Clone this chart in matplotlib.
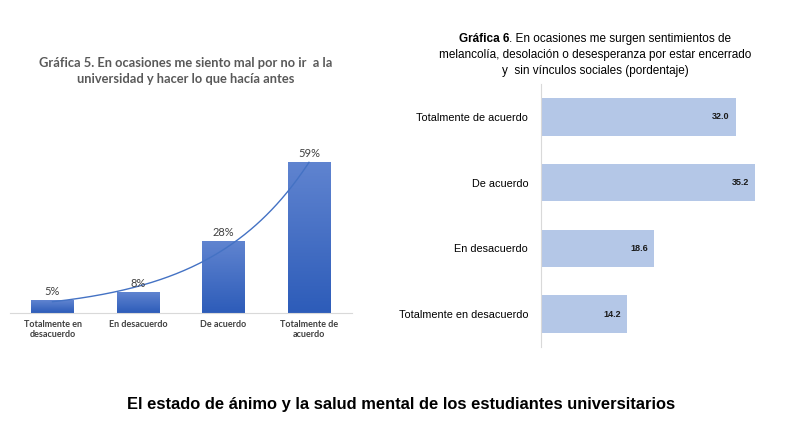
import numpy as np
import matplotlib
matplotlib.use('Agg')
import matplotlib.pyplot as plt
from matplotlib.colors import LinearSegmentedColormap


# Datos de la gráfica 5 (columnas, porcentajes)
cats_5 = ['Totalmente en\ndesacuerdo', 'En desacuerdo', 'De acuerdo', 'Totalmente de\nacuerdo']
vals_5 = [5, 8, 28, 59]

# Datos de la gráfica 6 (barras horizontales, de arriba a abajo)
cats_6 = ['Totalmente de acuerdo', 'De acuerdo', 'En desacuerdo', 'Totalmente en desacuerdo']
vals_6 = [32.0, 35.2, 18.6, 14.2]

titulo_5 = 'Gráfica 5. En ocasiones me siento mal por no ir  a la\nuniversidad y hacer lo que hacía antes'
titulo_6_neg = 'Gráfica 6'
titulo_6 = ('. En ocasiones me surgen sentimientos de\n'
            'melancolía, desolación o desesperanza por estar encerrado\n'
            'y  sin vínculos sociales (pordentaje)')
titulo_general = 'El estado de ánimo y la salud mental de los estudiantes universitarios'


W, H = 797, 448
fig = plt.figure(figsize=(W / 100, H / 100), dpi=100)


# --------> Gráfica 5
ax1 = fig.add_axes([9.75 / W, (H - 313) / H, 342 / W, 166.7 / H])
x = np.arange(len(vals_5))
bars = ax1.bar(x, vals_5, width=0.5, color='#4a73c8', zorder=2)

# degradado de las columnas
cmap = LinearSegmentedColormap.from_list('azul', ['#2d5cb9', '#6084d0'])
grad = np.linspace(0, 1, 256).reshape(-1, 1)
for b in bars:
    im = ax1.imshow(grad, extent=[b.get_x(), b.get_x() + b.get_width(), 0, b.get_height()],
                    origin='lower', aspect='auto', cmap=cmap, zorder=2)
    im.set_clip_path(b)

# línea de tendencia exponencial
coef = np.polyfit(x + 1, np.log(vals_5), 1)
xs = np.linspace(0, 3, 200)
ax1.plot(xs, np.exp(coef[1] + coef[0] * (xs + 1)), color='#4472c4', lw=1, zorder=3)

for xi, v in zip(x, vals_5):
    ax1.text(xi, v + 1.2, f'{v}%', ha='center', va='bottom', fontsize=8,
             color='#404040', family='Lato', zorder=4)

ax1.set_xlim(-0.5, 3.5)
ax1.set_ylim(0, 65)
ax1.set_xticks(x)
ax1.set_xticklabels(cats_5, fontsize=6.5, color='#404040', family='Lato', weight='bold')
ax1.tick_params(axis='x', length=0, pad=5)
ax1.set_yticks([])
for s in ['top', 'right', 'left']:
    ax1.spines[s].set_visible(False)
ax1.spines['bottom'].set_color('#d9d9d9')
ax1.patch.set_alpha(0)

fig.text(186 / W, 1 - 71 / H, titulo_5, ha='center', va='center', fontsize=9.3,
         weight='bold', color='#595959', family='Lato', linespacing=1.4)


# --------> Gráfica 6
ax2 = fig.add_axes([540.7 / W, (H - 347) / H, 243.5 / W, 263 / H])
y = np.arange(len(vals_6))
ax2.barh(y, vals_6, height=0.57, color='#b4c7e7', zorder=2)
for yi, v in zip(y, vals_6):
    ax2.text(v - 1.0, yi, f'{v:.1f}', ha='right', va='center', fontsize=6.5,
             weight='bold', color='#1a1a1a', family='Liberation Sans')
ax2.set_ylim(3.5, -0.5)
ax2.set_xlim(0, 40)
ax2.set_yticks(y)
ax2.set_yticklabels(cats_6, fontsize=7.8, family='Liberation Sans', color='#000000')
ax2.tick_params(axis='y', length=0, pad=9)
ax2.set_xticks([])
for s in ['top', 'right', 'bottom']:
    ax2.spines[s].set_visible(False)
ax2.spines['left'].set_color('#d9d9d9')
ax2.patch.set_alpha(0)

# título con "Gráfica 6" en negrita, primera línea centrada a mano
linea1 = titulo_6.split('\n')[0]
t1 = fig.text(0, 1 - 39 / H, titulo_6_neg, ha='left', va='center', fontsize=8.5,
              weight='bold', family='Liberation Sans')
t2 = fig.text(0, 1 - 39 / H, linea1, ha='left', va='center',
              fontsize=8.5, family='Liberation Sans')
fig.canvas.draw()
w1 = t1.get_window_extent().width
w2 = t2.get_window_extent().width
x0 = 595 - (w1 + w2) / 2
t1.set_x(x0 / W)
t2.set_x((x0 + w1) / W)
for i, linea in enumerate(titulo_6.split('\n')[1:]):
    fig.text(595 / W, 1 - (55 + 16 * i) / H, linea, ha='center', va='center',
             fontsize=8.5, family='Liberation Sans')


# --------> Título general
fig.text(401 / W, 1 - 404 / H, titulo_general, ha='center', va='center',
         fontsize=11.9, weight='bold', family='Liberation Sans')

fig.savefig('out.png', dpi=100)
